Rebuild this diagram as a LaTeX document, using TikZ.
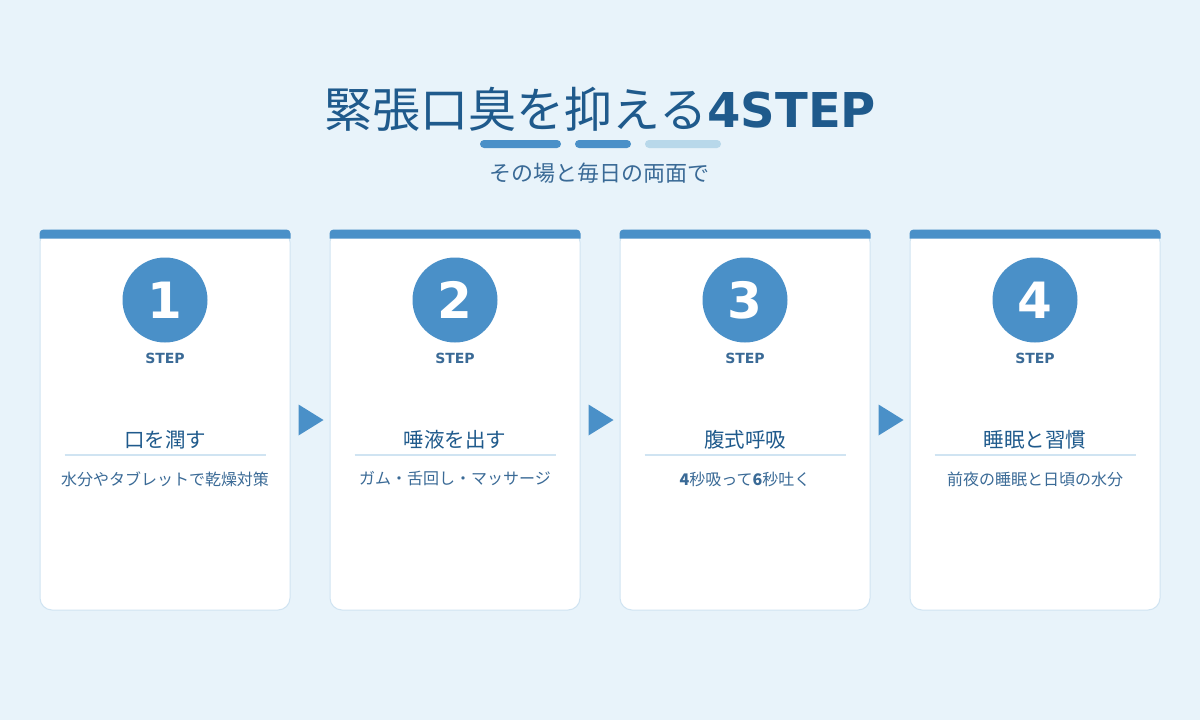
\documentclass[tikz,border=0pt]{standalone}
\usepackage{fontspec}
\setmainfont{DejaVu Sans}
\newfontfamily\cjk{Noto Sans CJK JP}
\usetikzlibrary{positioning}
\definecolor{bgblue}{HTML}{E8F3FA}
\definecolor{accent}{HTML}{4A90C8}
\definecolor{paleblue}{HTML}{B8D8EA}
\definecolor{edgeblue}{HTML}{D0E4F2}
\definecolor{titleblue}{HTML}{1F5A8C}
\definecolor{textblue}{HTML}{3A6A96}
\begin{document}
\begin{tikzpicture}[x=1pt, y=-1pt,
    card/.style={rectangle, fill=white, draw=edgeblue, line width=1pt,
              rounded corners=12pt, minimum width=250pt, minimum height=380pt,
              inner sep=0pt},
    badge/.style={circle, fill=accent, minimum size=85pt, inner sep=0pt,
              text=white, font=\bfseries\fontsize{50}{50}\selectfont},
    steplbl/.style={inner sep=0pt, text=textblue,
              font=\bfseries\fontsize{14}{14}\selectfont},
    bar/.style={rectangle, rounded corners=4pt, minimum height=8pt,
              inner sep=0pt},
    cardtitle/.style={inner sep=0pt, text=titleblue,
              font=\cjk\fontsize{20.5}{24}\selectfont},
    desc/.style={inner sep=0pt, text=textblue,
              font=\cjk\fontsize{16}{20}\selectfont}]
    \fill[bgblue] (0,0) rectangle (1200,720);
    % heading
    \node[anchor=base, inner sep=0pt, text=titleblue] (head) at (600.5,127)
        {{\cjk\fontsize{48}{56}\selectfont 緊張口臭を抑える}{\bfseries\fontsize{48}{56}\selectfont 4STEP}};
    \node[bar, fill=accent, minimum width=81pt] (b1) at (520.5,144) {};
    \node[bar, fill=accent, minimum width=56pt] (b2) at (603,144) {};
    \node[bar, fill=paleblue, minimum width=76pt] (b3) at (683,144) {};
    \node[inner sep=0pt, text=textblue, font=\cjk\fontsize{22}{24}\selectfont]
        (sub) at (599,173) {その場と毎日の両面で};
    % cards
    \foreach \i/\ttl/\desc[
        evaluate = \i as \cx using {165 + (\i-1)*290}
        ] in {1/口を潤す/水分やタブレットで乾燥対策,
              2/唾液を出す/ガム・舌回し・マッサージ,
              3/腹式呼吸/{{\bfseries\fontsize{16}{20}\selectfont 4}秒吸って{\bfseries\fontsize{16}{20}\selectfont 6}秒吐く},
              4/睡眠と習慣/前夜の睡眠と日頃の水分}{
        \node[card] (c\i) at (\cx,420) {};
        \fill[accent] ([yshift=-9pt]c\i.north west)
            {[rounded corners=4pt] -- (c\i.north west) -- (c\i.north east)}
            -- ([yshift=-9pt]c\i.north east) -- cycle;
        \node[badge] (n\i) at (\cx,300) {\i};
        \node[steplbl, below=10pt of n\i] (s\i) {STEP};
        \node[cardtitle] (t\i) at (\cx,440) {\ttl};
        \draw[edgeblue, line width=2pt] (\cx-100.5,455) -- (\cx+100.5,455);
        \node[desc] (d\i) at (\cx,479) {\desc};
    };
    % arrows between cards
    \foreach \j in {1,2,3}{
        \fill[accent] (c\j.east) ++(8,-15.5) -- ++(25,15.5) -- ++(-25,15.5) -- cycle;
    };
\end{tikzpicture}
\end{document}
